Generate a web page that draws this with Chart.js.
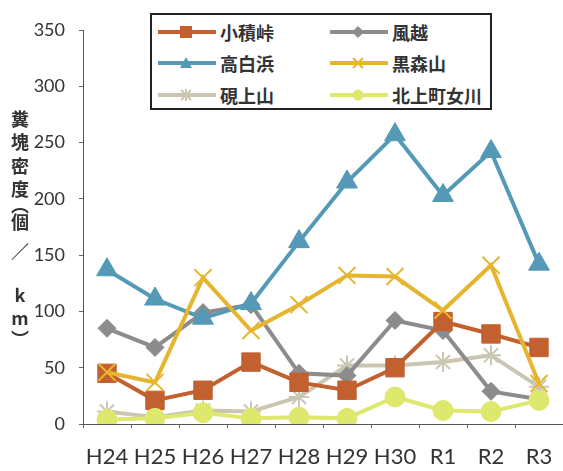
<!DOCTYPE html>
<html>
<head>
<meta charset="utf-8">
<script src="https://cdn.jsdelivr.net/npm/chart.js@4/dist/chart.umd.min.js"></script>
<style>
  html, body { margin: 0; padding: 0; background: #fff; }
  #wrap { position: relative; width: 563px; height: 471px; }
  .ych {
    position: absolute; left: 9px; width: 22px; height: 20px;
    writing-mode: vertical-rl; text-orientation: upright;
    font-family: "Noto Sans CJK JP", sans-serif; font-size: 18px; font-weight: bold;
    color: #333; line-height: 22px; text-align: center;
  }
  #legend {
    position: absolute; left: 150px; top: 13px; width: 342px; height: 97px;
    border: 2px solid #222; background: #fff; box-sizing: border-box;
    font-family: "Noto Sans CJK JP", sans-serif; font-size: 18px; font-weight: bold; color: #333;
  }
  .item { position: absolute; display: flex; align-items: center; height: 22px; }
  .item svg { margin-right: 3px; }
</style>
</head>
<body>
<div id="wrap">
  <canvas id="c" width="563" height="471"></canvas>
  <div id="ytitle"></div>
  <div id="legend"></div>
</div>
<script>
const years = ['H24', 'H25', 'H26', 'H27', 'H28', 'H29', 'H30', 'R1', 'R2', 'R3'];
const seriesNames = ['小積峠', '風越', '高白浜', '黒森山', '硯上山', '北上町女川'];

const kozumitoge = [45, 21, 30, 55, 37, 30, 50, 91, 80, 68];
const kazakoshi = [85, 68, 99, 106, 45, 43, 92, 83, 29, 22];
const takashirohama = [137, 111, 94, 107, 162, 215, 257, 203, 242, 142];
const kuromoriyama = [46, 37, 130, 83, 106, 132, 131, 101, 141, 36];
const suzuriagesan = [11, 6, 12, 11, 24, 52, 52, 55, 61, 33];
const onagawa = [4, 5, 10, 5, 6, 5, 24, 12, 11, 21];

const yTicks = [0, 50, 100, 150, 200, 250, 300, 350];
const yTitle = '糞塊密度（個／km）';

const colors = ['#c2602f', '#8c8c8e', '#5499b5', '#e6b52e', '#cbc6b2', '#dde86c'];
const shapes = ['rect', 'rectRot', 'triangle', 'crossRot', 'star', 'circle'];
const radii = [13, 9, 12, 12, 10, 10];
const values = [kozumitoge, kazakoshi, takashirohama, kuromoriyama, suzuriagesan, onagawa];

const datasets = seriesNames.map((name, i) => ({
    label: name,
    data: values[i],
    borderColor: colors[i],
    backgroundColor: colors[i],
    borderWidth: 4,
    pointStyle: shapes[i],
    pointRadius: radii[i],
    pointBorderWidth: (shapes[i] === 'crossRot' || shapes[i] === 'star') ? 2 : 1,
    pointBorderColor: colors[i],
    tension: 0,
    order: [3, 4, 2, 1, 5, 0][i]
}));

new Chart(document.getElementById('c'), {
    type: 'line',
    data: { labels: years, datasets: datasets },
    options: {
        responsive: false,
        animation: false,
        layout: { autoPadding: false, padding: { top: 30, right: 0, left: 0, bottom: 0 } },
        plugins: { legend: { display: false }, tooltip: { enabled: false } },
        scales: {
            x: {
                offset: true,
                grid: { display: true, drawOnChartArea: false, offset: true, tickLength: 4, color: '#666' },
                border: { color: '#555', width: 1 },
                ticks: { color: '#333', font: { family: 'Lato, "Liberation Sans", sans-serif', size: 22 }, padding: 16, maxRotation: 0, autoSkip: false },
                afterFit: s => { s.height = 47; s.paddingLeft = 0; s.paddingRight = 0; }
            },
            y: {
                min: 0, max: 350,
                afterBuildTicks: s => { s.ticks = yTicks.map(v => ({ value: v })); },
                grid: { display: true, drawOnChartArea: false, tickLength: 4, color: '#666' },
                border: { color: '#555', width: 1 },
                ticks: { color: '#333', font: { family: 'Lato, "Liberation Sans", sans-serif', size: 18 }, padding: 14 },
                afterFit: s => { s.width = 83; }
            }
        }
    }
});

// vertical axis title, one character per cell
const yCenters = [119, 142, 166, 189, 205, 222, 251, 295, 318, 339];
const yt = document.getElementById('ytitle');
Array.from(yTitle).forEach((ch, i) => {
    const d = document.createElement('div');
    d.className = 'ych';
    d.style.top = (yCenters[i] - 10) + 'px';
    d.textContent = ch;
    yt.appendChild(d);
});

// legend in a box, laid over the plot
function sample(color, shape) {
    let m = '';
    const cx = 29, cy = 8;
    if (shape === 'rect') m = `<rect x="${cx-6}" y="${cy-6}" width="12" height="12" fill="${color}"/>`;
    if (shape === 'rectRot') m = `<polygon points="${cx},${cy-6} ${cx+6},${cy} ${cx},${cy+6} ${cx-6},${cy}" fill="${color}"/>`;
    if (shape === 'triangle') m = `<polygon points="${cx},${cy-6} ${cx+6},${cy+5} ${cx-6},${cy+5}" fill="${color}"/>`;
    if (shape === 'crossRot') m = `<path d="M${cx-5} ${cy-5}L${cx+5} ${cy+5}M${cx+5} ${cy-5}L${cx-5} ${cy+5}" stroke="${color}" stroke-width="2"/>`;
    if (shape === 'star') m = `<path d="M${cx-5} ${cy-5}L${cx+5} ${cy+5}M${cx+5} ${cy-5}L${cx-5} ${cy+5}M${cx} ${cy-6}L${cx} ${cy+6}M${cx-6} ${cy}L${cx+6} ${cy}" stroke="${color}" stroke-width="2"/>`;
    if (shape === 'circle') m = `<circle cx="${cx}" cy="${cy}" r="5.5" fill="${color}"/>`;
    return `<svg width="60" height="16"><line x1="1" y1="${cy}" x2="59" y2="${cy}" stroke="${color}" stroke-width="4"/>${m}</svg>`;
}
const legend = document.getElementById('legend');
const pos = [[5, 6], [177, 6], [5, 37], [177, 37], [5, 69], [177, 69]];
seriesNames.forEach((name, i) => {
    const d = document.createElement('div');
    d.className = 'item';
    d.style.left = pos[i][0] + 'px';
    d.style.top = pos[i][1] + 'px';
    d.innerHTML = sample(colors[i], shapes[i]) + '<span>' + name + '</span>';
    legend.appendChild(d);
});
</script>
</body>
</html>
